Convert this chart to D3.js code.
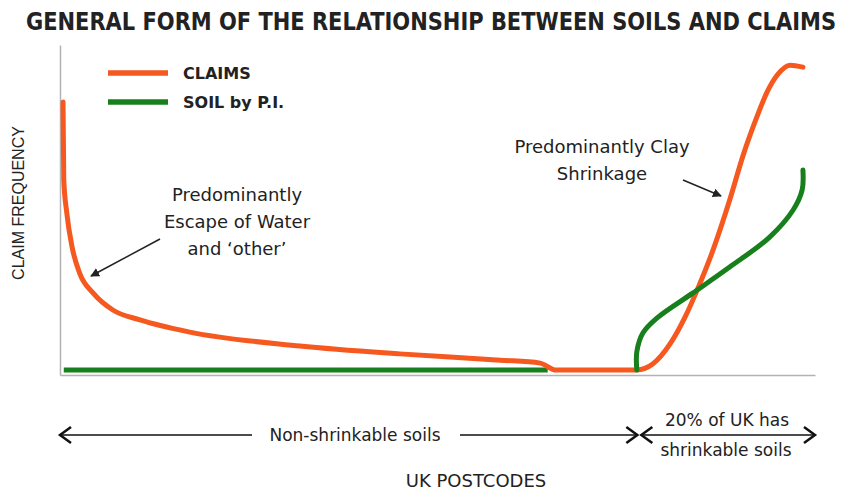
<!DOCTYPE html>
<meta charset="utf-8">
<style>
  body { margin: 0; background: #fff; }
  text { font-family: 'DejaVu Sans', sans-serif; fill: #222; }
</style>
<svg width="850" height="491"></svg>
<script src="https://d3js.org/d3.v7.min.js"></script>
<script>
// postcode position (0-100) vs relative claim frequency (0-100)
var claimsX = [0.4, 0.5, 0.9, 1.6, 2.6, 4.4, 7.0, 10.6, 17.2, 31.8, 45.0, 58.3, 63.6, 65.7, 76.4,
               78.5, 80.8, 82.8, 84.4, 86.5, 88.7, 90.5, 92.3, 93.6, 95.0, 96.7, 98.4];
var claimsY = [82.7, 59.1, 49.1, 38.8, 30.9, 24.8, 19.7, 16.7, 13.0, 8.8, 6.4, 4.5, 3.6, 1.5, 1.5,
               3.3, 9.4, 17.6, 25.8, 37.9, 53.0, 66.7, 78.2, 85.5, 90.9, 93.9, 93.3];

var soilFlatX = [0.5, 64.6];
var soilFlatY = [1.5, 1.5];
var soilX = [76.4, 76.4, 77.2, 79.1, 83.8, 88.7, 94.0, 97.1, 98.3, 98.4];
var soilY = [1.5, 7.0, 12.7, 17.3, 24.8, 32.7, 41.8, 50.0, 56.1, 62.1];

var boundary = 76.6;   // 20% of UK has shrinkable soils
var seriesNames = ["CLAIMS", "SOIL by P.I."];
var colors = ["#f5591f", "#17801d"];

var svg = d3.select("svg");

var x = d3.scaleLinear().domain([0, 100]).range([60, 815]);
var y = d3.scaleLinear().domain([0, 100]).range([375, 45]);

var defs = svg.append("defs");
defs.append("marker")
    .attr("id", "tri")
    .attr("viewBox", "0 0 10 10")
    .attr("refX", 9).attr("refY", 5)
    .attr("markerWidth", 9).attr("markerHeight", 9)
    .attr("markerUnits", "userSpaceOnUse")
    .attr("orient", "auto")
  .append("path")
    .attr("d", "M0,0L10,5L0,10z")
    .attr("fill", "#222");

// title
svg.append("text")
    .attr("x", 431).attr("y", 30)
    .attr("text-anchor", "middle")
    .attr("textLength", 810)
    .attr("lengthAdjust", "spacingAndGlyphs")
    .style("font-family", "'Liberation Sans Narrow', 'DejaVu Sans Condensed', 'DejaVu Sans', sans-serif")
    .style("font-weight", "bold")
    .style("font-size", "24px")
    .text("GENERAL FORM OF THE RELATIONSHIP BETWEEN SOILS AND CLAIMS");

// axes, no ticks
svg.append("g")
    .attr("transform", "translate(0," + y(0) + ")")
    .call(d3.axisBottom(x).tickValues([]).tickSizeOuter(0))
    .select(".domain").attr("stroke", "#b3b3b3").attr("stroke-width", 1.5);

svg.append("g")
    .attr("transform", "translate(" + x(0) + ",0)")
    .call(d3.axisLeft(y).tickValues([]).tickSizeOuter(0))
    .select(".domain").attr("stroke", "#b3b3b3").attr("stroke-width", 1.5);

svg.append("text")
    .attr("transform", "translate(24,203) rotate(-90)")
    .attr("text-anchor", "middle")
    .style("font-family", "'Liberation Sans', Arial, sans-serif")
    .style("font-size", "16px")
    .text("CLAIM FREQUENCY");

// curves
function pts(xs, ys) { return xs.map(function(v, i) { return [v, ys[i]]; }); }

var claimLine = d3.line()
    .x(function(d) { return x(d[0]); })
    .y(function(d) { return y(d[1]); })
    .curve(d3.curveMonotoneX);

var soilLine = d3.line()
    .x(function(d) { return x(d[0]); })
    .y(function(d) { return y(d[1]); })
    .curve(d3.curveCatmullRom.alpha(0.5));

svg.append("path")
    .datum(pts(soilFlatX, soilFlatY))
    .attr("d", soilLine)
    .attr("fill", "none").attr("stroke", colors[1]).attr("stroke-width", 5);

svg.append("path")
    .datum(pts(claimsX, claimsY))
    .attr("d", claimLine)
    .attr("fill", "none").attr("stroke", colors[0]).attr("stroke-width", 5)
    .attr("stroke-linejoin", "round").attr("stroke-linecap", "round");

svg.append("path")
    .datum(pts(soilX, soilY))
    .attr("d", soilLine)
    .attr("fill", "none").attr("stroke", colors[1]).attr("stroke-width", 5)
    .attr("stroke-linecap", "round");

// legend
var legend = svg.append("g").selectAll("g")
    .data(seriesNames)
  .enter().append("g")
    .attr("transform", function(d, i) { return "translate(108," + (73 + i * 29) + ")"; });

legend.append("line")
    .attr("x1", 0).attr("x2", 60)
    .attr("stroke", function(d, i) { return colors[i]; })
    .attr("stroke-width", 5.5);

legend.append("text")
    .attr("x", 75).attr("y", 6)
    .style("font-weight", "bold")
    .style("font-size", "16px")
    .text(function(d) { return d; });

// annotations
var note1 = svg.append("text")
    .attr("text-anchor", "middle")
    .style("font-size", "18px");
["Predominantly", "Escape of Water", "and \u2018other\u2019"].forEach(function(t, i) {
  note1.append("tspan").attr("x", 237).attr("y", 201 + i * 27).text(t);
});

svg.append("line")
    .attr("x1", 160).attr("y1", 239)
    .attr("x2", 91).attr("y2", 276)
    .attr("stroke", "#222").attr("stroke-width", 1.5)
    .attr("marker-end", "url(#tri)");

var note2 = svg.append("text")
    .attr("text-anchor", "middle")
    .style("font-size", "18px");
["Predominantly Clay", "Shrinkage"].forEach(function(t, i) {
  note2.append("tspan").attr("x", 602).attr("y", 153 + i * 27).text(t);
});

svg.append("line")
    .attr("x1", 683).attr("y1", 180)
    .attr("x2", 721).attr("y2", 196)
    .attr("stroke", "#222").attr("stroke-width", 1.5)
    .attr("marker-end", "url(#tri)");

// bottom range arrows
var ay = 435;
var arrows = svg.append("g")
    .attr("stroke", "#111").attr("stroke-width", 1.5).attr("fill", "none");

function head(g, tipX, dir) {
  g.append("path")
    .attr("d", "M" + (tipX - dir * 11) + "," + (ay - 8) + "L" + tipX + "," + ay + "L" + (tipX - dir * 11) + "," + (ay + 8))
    .attr("stroke-width", 2.5);
}

arrows.append("line").attr("x1", x(0)).attr("x2", 252).attr("y1", ay).attr("y2", ay);
arrows.append("line").attr("x1", 460).attr("x2", x(boundary) - 2).attr("y1", ay).attr("y2", ay);
arrows.append("line").attr("x1", x(boundary) + 2).attr("x2", x(100)).attr("y1", ay).attr("y2", ay);
head(arrows, x(0), -1);
head(arrows, x(boundary) - 1, 1);
head(arrows, x(boundary) + 3, -1);
head(arrows, x(100), 1);

svg.append("text")
    .attr("x", 355).attr("y", 441)
    .attr("text-anchor", "middle")
    .style("font-size", "17px")
    .text("Non-shrinkable soils");

svg.append("text")
    .attr("x", 727).attr("y", 426)
    .attr("text-anchor", "middle")
    .style("font-size", "17px")
    .text("20% of UK has");

svg.append("text")
    .attr("x", 726).attr("y", 456)
    .attr("text-anchor", "middle")
    .style("font-size", "17px")
    .text("shrinkable soils");

svg.append("text")
    .attr("x", 476).attr("y", 487)
    .attr("text-anchor", "middle")
    .style("font-size", "18px")
    .text("UK POSTCODES");
</script>
